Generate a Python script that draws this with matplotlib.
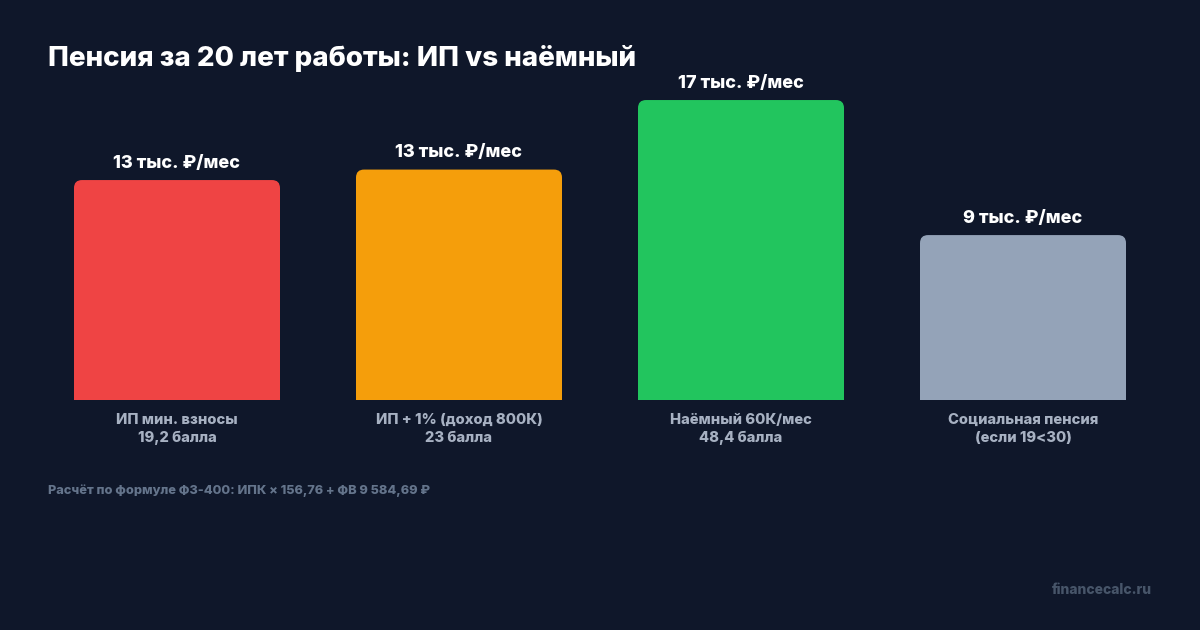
import matplotlib
matplotlib.use('Agg')
import matplotlib.pyplot as plt
from matplotlib.patches import FancyBboxPatch, Rectangle

# данные
categories = ['ИП мин. взносы\n19,2 балла', 'ИП + 1% (доход 800К)\n23 балла',
              'Наёмный 60К/мес\n48,4 балла', 'Социальная пенсия\n(если 19<30)']
values = [12.59, 13.19, 17.17, 9.44]   # тыс. руб/мес
value_labels = ['13 тыс. ₽/мес', '13 тыс. ₽/мес', '17 тыс. ₽/мес', '9 тыс. ₽/мес']
colors = ['#ef4444', '#f59e0b', '#22c55e', '#94a3b8']

BG = '#0f172a'
FONT = ['Inter', 'DejaVu Sans']
plt.rcParams['font.family'] = FONT

fig = plt.figure(figsize=(12, 6.3), dpi=100)
fig.patch.set_facecolor(BG)

W, H = 1200, 630
# оси в пикселях: x 74..1126, низ столбцов y=400
ax = fig.add_axes([74 / W, 230 / H, 1052 / W, 340 / H])
ax.set_facecolor(BG)
ax.set_xlim(-0.3652, 3.3652)
ax.set_ylim(0, 340 / 17.47)
ax.axis('off')

bw = 206 / 282
rx = 8 / 282
ry = 8 / 17.47
for i, v in enumerate(values):
    x0 = i - bw / 2
    # скругление только сверху
    ax.add_patch(FancyBboxPatch((x0, 0), bw, v,
                                boxstyle='round,pad=0,rounding_size=%f' % rx,
                                mutation_aspect=ry / rx,
                                facecolor=colors[i], edgecolor='none'))
    ax.add_patch(Rectangle((x0, 0), bw, v - ry, facecolor=colors[i], edgecolor='none'))
    ax.annotate(value_labels[i], (i, v), xytext=(0, 6), textcoords='offset points',
                ha='center', va='bottom', color='white', fontsize=13, fontweight='heavy')
    ax.annotate(categories[i], (i, 0), xytext=(0, -9.5), textcoords='offset points',
                ha='center', va='top', color='#a7b1c2', fontsize=10.6, fontweight='heavy',
                linespacing=1.32)

fig.text(48 / W, 1 - 58 / H, 'Пенсия за 20 лет работы: ИП vs наёмный', color='white',
         fontsize=20, fontweight='heavy', ha='left', va='center')
fig.text(48 / W, 1 - 491 / H, 'Расчёт по формуле ФЗ-400: ИПК × 156,76 + ФВ 9 584,69 ₽',
         color='#64748b', fontsize=9.2, fontweight='heavy', ha='left', va='center')
fig.text(1152 / W, 1 - 590 / H, 'financecalc.ru', color='#475569', fontsize=10,
         fontweight='heavy', ha='right', va='center')

fig.savefig('out.png', dpi=100, facecolor=BG)
